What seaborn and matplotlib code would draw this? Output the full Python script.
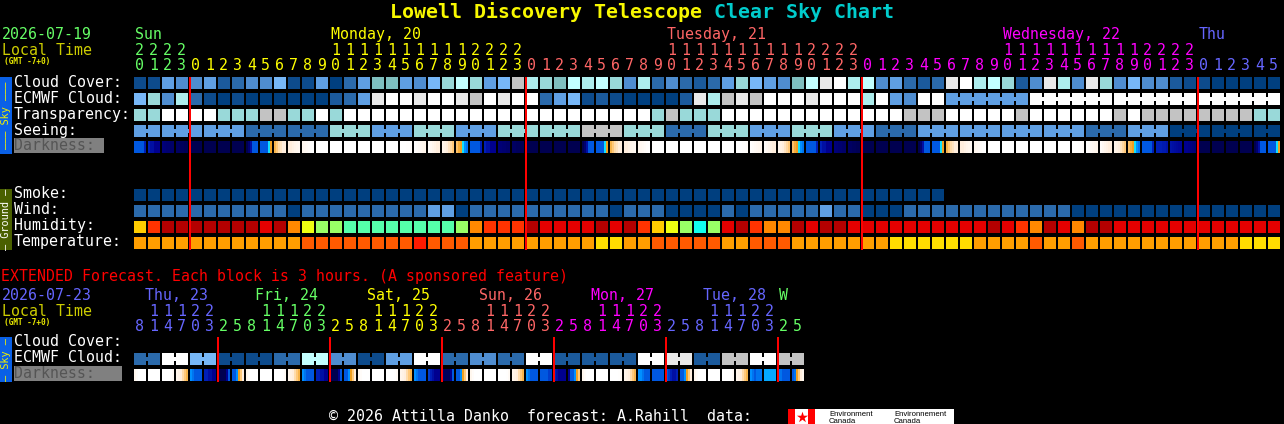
import numpy as np
import matplotlib
matplotlib.use("Agg")
import matplotlib.pyplot as plt
from matplotlib.colors import ListedColormap, LinearSegmentedColormap
from matplotlib.patches import Rectangle
import seaborn as sns

W, H = 1284, 424
nan = float("nan")

# ---------- main forecast (1 block = 1 hour) ----------
hours_main = [20,21,22,23,
    0,1,2,3,4,5,6,7,8,9,10,11,12,13,14,15,16,17,18,19,20,21,22,23,
    0,1,2,3,4,5,6,7,8,9,10,11,12,13,14,15,16,17,18,19,20,21,22,23,
    0,1,2,3,4,5,6,7,8,9,10,11,12,13,14,15,16,17,18,19,20,21,22,23,
    0,1,2,3,4,5]
day_lengths_main = [4, 24, 24, 24, 6]
day_labels_main = ["Sun", "Monday, 20", "Tuesday, 21", "Wednesday, 22", "Thu"]
day_label_x_main = [135, 331, 667, 1003, 1199]
midnights_main = [4, 28, 52, 76]

cloud_cover = [1,1,5,4,4,5,2,3,4,4,6,1,1,5,0,3,5,7,7,5,4,6,
    8,10,8,5,6,11,9,8,7,10,9,10,8,4,9,3,4,3,2,3,5,8,6,5,4,7,10,12,13,9,
    10,4,5,3,2,3,12,13,9,10,8,2,4,12,9,4,12,8,4,6,4,4,2,1,1,0,0,0,0,0]
ecmwf_cloud = [6,8,4,9,3,1,0,1,0,0,0,0,0,0,2,3,5,12,13,13,12,13,
    13,12,11,13,12,13,13,3,5,6,1,2,1,0,0,0,0,2,12,9,11,12,11,13,13,13,12,13,13,13,
    9,13,5,4,13,13,5,5,5,5,5,5,13,13,13,13,13,13,13,13,13,13,13,13,13,13,13,13,13,13]
transparency = [8,8,13,13,13,13,8,8,8,11,11,8,8,13,8,13,13,13,13,13,13,13,
    13,13,13,13,13,13,13,13,13,13,13,13,13,13,13,8,11,8,8,8,13,13,13,13,13,13,13,13,13,13,
    13,13,13,11,11,11,13,13,13,13,13,11,13,13,13,13,13,13,11,13,11,11,11,11,11,11,11,11,8,8]
seeing = [5,5, 5,5,5, 5,5,5, 3,3,3, 3,3,3, 8,8,8, 5,5,5, 8,8,8,
    5,5,5, 8,8,8, 8,8,8, 11,11,11, 8,8,8, 3,3,3, 8,8,8, 5,5,5, 8,8,8, 5,5,5,
    3,3,3, 5,5,5, 5,5,5, 5,5,5, 5,5,5, 3,3,3, 5,5,5, 0,0,0, 0,0,0, 0,0]
seeing_groups = [2] + [3] * 26 + [2]
ecmwf_groups = [1] * 58 + [6, 6, 6, 6]

smoke = [0] * 58 + [nan] * 24
wind = [3,3,3,3,3,3,3,3,3,3,3,0,3,3,3,3,3,3,3,3,3,5,
    5,0,3,3,3,3,3,3,3,3,3,3,0,3,3,3,0,0,0,0,3,0,3,3,3,3,3,5,3,3,
    0,0,0,3,3,3,3,3,3,3,3,3,3,3,3,0,0,0,0,0,0,0,0,0,0,0,0,0,0,0]
# humidity: 0 dark red ... 8 cyan
humidity = [4,2,0,0,0,0,0,0,0,1,0,3,5,6,6,7,7,7,7,7,7,7,
    7,6,3,2,2,2,0,1,1,1,1,0,1,0,2,4,5,6,8,6,1,0,2,3,3,0,1,0,0,1,
    1,1,1,1,1,1,1,1,1,0,1,2,3,0,1,3,0,0,1,1,1,1,1,1,1,1,1,1,1,1]
# temperature: 0 red, 1 dark orange, 2 orange, 3 yellow
temperature = [2,2,2,2,2,2,2,2,2,2,2,2,1,1,1,1,1,1,1,1,0,1,
    1,1,2,2,2,2,2,2,2,2,2,3,3,2,2,1,1,1,1,1,2,2,1,1,1,2,2,2,2,2,
    2,2,3,3,3,3,3,3,2,2,2,2,1,2,2,1,2,2,2,2,2,2,2,2,2,2,2,3,3,3]

# darkness: sub-block samples, 0 navy ... 9 white
O = [9, 9, 9, 9, 9, 9]
N = [0, 0, 0, 0, 0, 0]
A = [3, 3, 3, 3, 3, 2]
B = [2, 1.5, 1.5, 1, 1, 1]
C = [.7, .6, .5, .5, .4, .4]
D = [.3, .3, .2, .2, .1, .1]
U = [0, .5, 1.5, 3, 3, 3]
V = [3, 3, 3, 3, 5, 6]
P = [6.5, 7, 7.5, 7.7, 8, 8]
Q = [8, 8, 8.2, 8.4, 8.5, 8.6]
R = [8.5, 8.6, 8.7, 8.8, 8.9, 9]
S = [8.9, 9, 9, 9, 9, 9]
E = [9, 9, 9, 8.9, 8.9, 8.8]
F = [8.9, 8.8, 8.7, 8.6, 8.5, 8.4]
G = [8.8, 8.6, 8.4, 8.2, 8, 8]
I = [8.4, 8.2, 8, 7.7, 7.4, 7]
J = [6.8, 6.3, 6, 5, 4, 3.5]
B2 = [2, 2, 2, 1.8, 1.8, 1.6]
C2 = [1.6, 1.5, 1.4, 1.3, 1.2, 1.2]
D2 = [1, 1, .9, .8, .7, .6]
darkness_main = [A,B,C,D,N,N,N,N,U,V,P,Q,R,S,O,O,O,O,O,E,F,G,I,J,
                 A,B,C,D,N,N,N,N,U,V,P,Q,R,S,O,O,O,O,O,E,F,G,I,J,
                 A,B,C,D,N,N,N,N,U,V,P,Q,R,S,O,O,O,O,O,E,F,G,I,J,
                 A,B2,C2,D2,N,N,N,N,U,V]

# ---------- extended forecast (1 block = 3 hours) ----------
hours_ext = [8,11,14,17,20,23,
             2,5,8,11,14,17,20,23,
             2,5,8,11,14,17,20,23,
             2,5,8,11,14,17,20,23,
             2,5,8,11,14,17,20,23,
             2,5,8,11,14,17,20,23,
             2,5]
day_lengths_ext = [6, 8, 8, 8, 8, 8, 2]
day_labels_ext = ["Thu, 23", "Fri, 24", "Sat, 25", "Sun, 26", "Mon, 27", "Tue, 28", "W"]
day_label_x_ext = [145, 255, 367, 479, 591, 703, 779]
midnights_ext = [6, 14, 22, 30, 38, 46]

ecmwf_ext = [3,3, 13,13, 6,6, 1,1, 1,1, 3,3, 10,10, 4,4, 1,1, 5,5,
             13,13, 3,3, 4,4, 3,3, 13,13, 2,2, 2,2, 2,2, 13,13, 12,12, 2,2, 11,11, 13,13, 11,11]
ecmwf_ext_groups = [2] * 24

e0 = [8.5, 8.8, 9, 9, 9, 9]
e2 = [9, 9, 9, 9, 8.9, 8.7]
e3 = [8.4, 8.2, 8, 7.5, 7, 6.5]
e4 = [4, 3.5, 3, 3, 3, 3]
e5 = [2, 2, 1.5, 1.5, 1, 1]
e6 = [0, 0, 0, 0, 1, 3]
e7 = [3, 3, 4, 6, 7, 8]
f5 = [2.5, 2, 1.5, 1, 1, 1]
f6 = [.3, .2, .2, .2, 1, 3]
g5 = [3, 3, 3, 3, 2.5, 2.5]
g6 = [2, 1.5, 1, 1, 1, 1]
g7 = [1, 3, 3, 4, 6, 7]
h4 = [4, 4, 3.5, 3, 3, 3]
h5 = [3, 3, 3, 3, 3, 3]
h6 = [3, 2.5, 2, 1.5, 1.5, 2]
i4 = [4, 3.5, 3, 3.5, 3.5, 3.5]
i5 = [4.3, 4.3, 4.3, 4.3, 4.3, 4.3]
i6 = [3.5, 3.5, 3, 3, 3, 3]
i7 = [3, 3.5, 6, 7, 8, 8.5]
darkness_ext = [e0,O,e2,e3,e4,e5,e6,e7,
                e0,O,e2,e3,e4,e5,e6,e7,
                e0,O,e2,e3,e4,f5,f6,e7,
                e0,O,e2,e3,e4,g5,g6,g7,
                e0,O,e2,e3,h4,h5,h6,e7,
                e0,O,e2,e3,i4,i5,i6,i7]

# ---------- colours ----------
sky_colors = ["#003f7f", "#0d4b8c", "#1b5a9c", "#2b6aab", "#4f8dd0", "#5f9fe3", "#77b7f7",
              "#7fbfbf", "#99d9d9", "#adeded", "#c2ffff", "#c3c3c3", "#e9e9e9", "#ffffff"]
humidity_colors = ["#b40000", "#e40000", "#ff3300", "#ff8800", "#ffcc00",
                   "#eeff11", "#99ff66", "#55ffaa", "#11ffee"]
temperature_colors = ["#ff1a00", "#ff5a00", "#ff9e00", "#ffdd00"]
darkness_colors = ["#000050", "#000090", "#0020b8", "#0058e0", "#0090ff",
                   "#10e0ff", "#f0a020", "#ffc878", "#ffeedd", "#ffffff"]
day_colors = {"main": ["#66ff66", "#ffff00", "#ff6666", "#ff00ff", "#6666ff"],
              "ext": ["#6666ff", "#66ff66", "#ffff00", "#ff6666", "#ff00ff", "#6666ff", "#66ff66"]}

sky_cmap = ListedColormap(sky_colors)
hum_cmap = ListedColormap(humidity_colors)
tem_cmap = ListedColormap(temperature_colors)
dark_cmap = LinearSegmentedColormap.from_list("dark", darkness_colors)

# ---------- figure helpers ----------
sns.set_theme(style="white")
plt.rcParams["font.family"] = ["DejaVu Sans Mono"]
fig = plt.figure(figsize=(W / 100, H / 100), dpi=100, facecolor="black")
X0, PITCH, CELL = 134, 14, 12
LINE_LW = 2 * 72 / 100


def px_axes(x0, y0, x1, y1):
    return fig.add_axes([x0 / W, 1 - y1 / H, (x1 - x0) / W, (y1 - y0) / H])


def row_heatmap(matrix, y, n, cmap, vmin, vmax):
    ax = px_axes(X0, y, X0 + n * PITCH, y + CELL)
    sns.heatmap(matrix, ax=ax, cmap=cmap, vmin=vmin, vmax=vmax,
                cbar=False, xticklabels=False, yticklabels=False)
    ax.axis("off")


def draw_row(values, y, cmap, vmin, vmax, groups=None):
    # each block is seven 2-px columns, the seventh empty (the gap);
    # inside a joined group the gap is filled only in the middle band
    n = len(values)
    joined = set()
    if groups:
        start = 0
        for g in groups:
            joined.update(range(start, start + g - 1))
            start += g
    edge, mid = [], []
    for i, v in enumerate(values):
        edge += [v] * 6 + [nan]
        mid += [v] * 6 + [v if i in joined else nan]
    row_heatmap(np.array([edge, mid, edge], dtype=float), y, n, cmap, vmin, vmax)


def draw_dark(cells, y):
    vals = []
    for c in cells:
        vals += list(c) + [nan]
    row_heatmap(np.array([vals], dtype=float), y, len(cells), dark_cmap, 0, 9)


S_MAX = len(sky_colors) - 0.5
for vals, y, grp in [(cloud_cover, 77, None), (ecmwf_cloud, 93, ecmwf_groups),
                     (transparency, 109, None), (seeing, 125, seeing_groups)]:
    draw_row(vals, y, sky_cmap, -0.5, S_MAX, grp)
draw_dark(darkness_main, 141)
draw_row(smoke, 189, sky_cmap, -0.5, S_MAX)
draw_row(wind, 205, sky_cmap, -0.5, S_MAX)
draw_row(humidity, 221, hum_cmap, -0.5, len(humidity_colors) - 0.5)
draw_row(temperature, 237, tem_cmap, -0.5, len(temperature_colors) - 0.5)
draw_row(ecmwf_ext, 353, sky_cmap, -0.5, S_MAX, ecmwf_ext_groups)
draw_dark(darkness_ext, 369)

# overlay in pixel coordinates
ov = fig.add_axes([0, 0, 1, 1], zorder=10)
ov.set_xlim(0, W)
ov.set_ylim(H, 0)
ov.axis("off")
FS = 10.75


def txt(x, y, s, color="white", size=FS, **kw):
    kw.setdefault("va", "baseline")
    kw.setdefault("ha", "left")
    ov.text(x, y, s, color=color, fontsize=size, **kw)


def rect(x0, y0, x1, y1, color):
    ov.add_patch(Rectangle((x0, y0), x1 - x0, y1 - y0, facecolor=color, edgecolor="none"))


# title
txt(390, 18, "Lowell Discovery Telescope", "#f8f800", 14.35, fontweight="bold")
txt(714, 18, "Clear Sky Chart", "#00cccc", 14.35, fontweight="bold")


def header(date, date_color, y_date, labels, label_x, lengths, colors, hours):
    txt(2, y_date, date, date_color)
    txt(2, y_date + 16, "Local Time", "#cccc00")
    txt(4, y_date + 25, "(GMT -7+0)", "#e8e800", 5.6, fontweight="bold")
    for lab, x, col in zip(labels, label_x, colors):
        txt(x, y_date, lab, col)
    i = 0
    for ln, col in zip(lengths, colors):
        for _ in range(ln):
            h = hours[i]
            cx = X0 + i * PITCH + 5.5
            txt(cx, y_date + 31, str(h % 10), col, ha="center")
            if h >= 10:
                txt(cx, y_date + 16, str(h // 10), col, ha="center")
            i += 1


header("2026-07-19", "#66ff66", 39, day_labels_main, day_label_x_main, day_lengths_main,
       day_colors["main"], hours_main)
header("2026-07-23", "#6666ff", 300, day_labels_ext, day_label_x_ext, day_lengths_ext,
       day_colors["ext"], hours_ext)

# row labels
for s, y in [("Cloud Cover:", 87), ("ECMWF Cloud:", 103), ("Transparency:", 119), ("Seeing:", 135),
             ("Smoke:", 198), ("Wind:", 214), ("Humidity:", 230), ("Temperature:", 246),
             ("Cloud Cover:", 346), ("ECMWF Cloud:", 362)]:
    txt(14, y, s)
rect(14, 138, 104, 153, "#808080")
txt(14, 150, "Darkness:", "#555555")
rect(14, 366, 122, 381, "#808080")
txt(14, 378, "Darkness:", "#555555")

# side bars
rect(0, 77, 12, 154, "#0a60e6")
ov.text(6, 115.5, "\u2013\u2013\u2013 Sky \u2013\u2013\u2013", color="#f0f000", fontsize=7.4,
        rotation=90, ha="center", va="center")
rect(0, 189, 12, 250, "#4a6000")
ov.text(6, 219.5, "\u2013 Ground \u2013", color="white", fontsize=7.4, rotation=90, ha="center", va="center")
rect(0, 337, 12, 382, "#0a60e6")
ov.text(6, 359.5, "\u2013 Sky \u2013", color="#f0f000", fontsize=7.4, rotation=90, ha="center", va="center")

# midnight lines
for c in midnights_main:
    ov.vlines(X0 + c * PITCH, 77, 250, color="#ff0000", lw=LINE_LW)
for c in midnights_ext:
    ov.vlines(X0 + c * PITCH, 337, 382, color="#ff0000", lw=LINE_LW)

# extended heading and footer
txt(1, 281, "EXTENDED Forecast. Each block is 3 hours. (A sponsored feature)", "#ff0000")
txt(329, 421, "\u00a9 2026 Attilla Danko  forecast: A.Rahill  data:")

# Environment Canada logo
rect(788, 409, 954, 424, "#ffffff")
rect(788, 409, 795, 424, "#ff0000")
rect(808, 409, 815, 424, "#ff0000")
ov.scatter([801.5], [416.5], marker="*", s=70, color="#ff0000", linewidths=0)
LOGO = ["Liberation Sans", "DejaVu Sans"]
for x, s in [(829, "Environment"), (894, "Environnement")]:
    ov.text(x, 415.5, s, color="black", fontsize=5.6, family=LOGO, va="baseline")
    ov.text(x, 423, "Canada", color="black", fontsize=5.6, family=LOGO, va="baseline")

fig.savefig("out.png", dpi=100, facecolor="black")
